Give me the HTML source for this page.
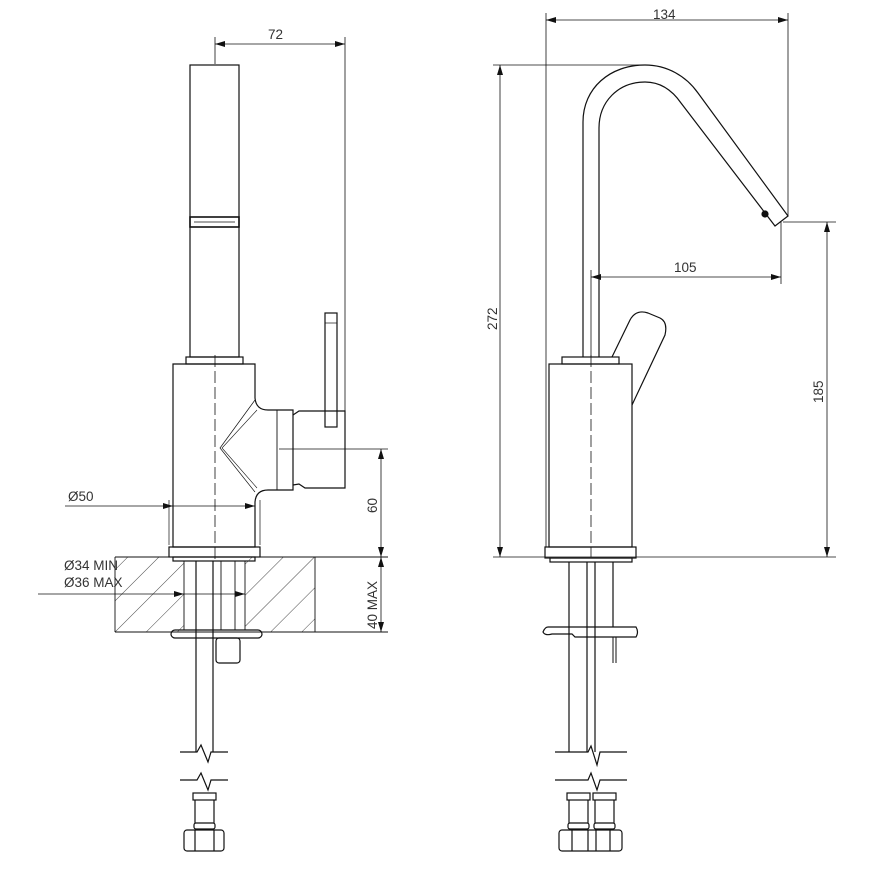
<!DOCTYPE html>
<html><head><meta charset="utf-8"><style>body{margin:0;background:#fff}svg{display:block}text{font-family:"Liberation Sans",sans-serif;font-size:13.5px;fill:#333}</style></head>
<body>
<svg width="872" height="872" viewBox="0 0 872 872" xmlns="http://www.w3.org/2000/svg">
<defs>
<pattern id="h" width="22" height="22" patternUnits="userSpaceOnUse" patternTransform="rotate(45)"><line x1="0" y1="0" x2="0" y2="22" stroke="#333" stroke-width="0.9"/></pattern>
<marker id="a" viewBox="0 0 10 6" refX="10" refY="3" markerWidth="10" markerHeight="6" orient="auto-start-reverse" markerUnits="userSpaceOnUse"><path d="M0 0L10 3L0 6z" fill="#111"/></marker>
</defs>
<g fill="none" stroke="#111" stroke-width="1.2">
<line x1="215" y1="37" x2="215" y2="64" stroke-width="0.8"/>
<line x1="345" y1="37" x2="345" y2="412" stroke-width="0.8"/>
<line x1="215" y1="44" x2="345" y2="44" stroke-width="0.8" marker-start="url(#a)" marker-end="url(#a)"/>
<rect x="190" y="65" width="49" height="292"/>
<rect x="190" y="217" width="49" height="10" stroke-width="1.6"/>
<line x1="194" y1="222" x2="235" y2="222" stroke-width="0.8"/>
<rect x="186" y="357" width="57" height="7"/>
<path d="M173 364 H255 V398 Q256 410 268 410 H293 V490 H268 Q256 490 255 502 V547 H173 Z"/>
<line x1="277" y1="410" x2="277" y2="490" stroke-width="0.9"/>
<path d="M293 415 L299 411 H345 V488 H305 L299 484 L293 485"/>
<path d="M255 400 L220 448 L255 492" stroke-width="0.7"/>
<path d="M257 410 L222 448 L257 488" stroke-width="0.6"/>
<rect x="325" y="313" width="12" height="114"/>
<line x1="325" y1="323" x2="337" y2="323" stroke-width="0.7"/>
<rect x="169" y="547" width="91" height="10"/>
<rect x="173" y="557" width="82" height="4"/>
<line x1="215" y1="355" x2="215" y2="562" stroke-width="0.8" stroke-dasharray="12,4"/>
<line x1="279" y1="449" x2="388" y2="449" stroke-width="0.8"/>
<line x1="169" y1="500" x2="169" y2="545" stroke-width="0.7"/>
<line x1="260" y1="500" x2="260" y2="545" stroke-width="0.7"/>
<line x1="65" y1="506" x2="173" y2="506" stroke-width="0.8" marker-end="url(#a)"/>
<line x1="173" y1="506" x2="255" y2="506" stroke-width="0.8" marker-end="url(#a)"/>
<line x1="381" y1="449" x2="381" y2="557" stroke-width="0.8" marker-start="url(#a)" marker-end="url(#a)"/>
<line x1="381" y1="557" x2="381" y2="632" stroke-width="0.8" marker-start="url(#a)" marker-end="url(#a)"/>
<rect x="115" y="557" width="69" height="75" fill="url(#h)" stroke="none"/>
<rect x="245" y="557" width="70" height="75" fill="url(#h)" stroke="none"/>
<line x1="115" y1="557" x2="388" y2="557" stroke-width="0.9"/>
<line x1="115" y1="632" x2="388" y2="632" stroke-width="0.9"/>
<line x1="115" y1="557" x2="115" y2="632" stroke-width="0.9"/>
<line x1="315" y1="557" x2="315" y2="632" stroke-width="0.9"/>
<line x1="184" y1="561" x2="184" y2="630" stroke-width="0.9"/>
<line x1="245" y1="561" x2="245" y2="630" stroke-width="0.9"/>
<line x1="196" y1="561" x2="196" y2="752"/>
<line x1="213" y1="561" x2="213" y2="752"/>
<line x1="221" y1="561" x2="221" y2="630" stroke-width="0.9"/>
<line x1="235" y1="561" x2="235" y2="630" stroke-width="0.9"/>
<line x1="38" y1="594" x2="184" y2="594" stroke-width="0.8" marker-end="url(#a)"/>
<line x1="184" y1="594" x2="245" y2="594" stroke-width="0.8" marker-end="url(#a)"/>
<rect x="171" y="630" width="91" height="8" rx="4"/>
<rect x="216" y="638" width="24" height="25" rx="3"/>
<path d="M180 752 H197 L201 745 L208 762 L211 752 H228"/>
<path d="M180 780 H197 L201 773 L208 790 L211 780 H228"/>
<rect x="193" y="793" width="23" height="7"/>
<path d="M195 800 V823 M214 800 V823"/>
<rect x="194" y="823" width="21" height="6" rx="2"/>
<rect x="184" y="830" width="40" height="21" rx="3"/>
<path d="M195 830 V851 M214 830 V851"/>

<line x1="546" y1="13" x2="546" y2="547" stroke-width="0.8"/>
<line x1="788" y1="13" x2="788" y2="216" stroke-width="0.8"/>
<line x1="546" y1="20" x2="788" y2="20" stroke-width="0.8" marker-start="url(#a)" marker-end="url(#a)"/>
<line x1="493" y1="65" x2="645" y2="65" stroke-width="0.8"/>
<line x1="500" y1="65" x2="500" y2="557" stroke-width="0.8" marker-start="url(#a)" marker-end="url(#a)"/>
<line x1="493" y1="557" x2="836" y2="557" stroke-width="0.8"/>
<line x1="783" y1="222" x2="836" y2="222" stroke-width="0.8"/>
<line x1="827" y1="222" x2="827" y2="557" stroke-width="0.8" marker-start="url(#a)" marker-end="url(#a)"/>
<line x1="781" y1="222" x2="781" y2="284" stroke-width="0.8"/>
<line x1="591" y1="270" x2="591" y2="357" stroke-width="0.8"/>
<line x1="591" y1="277" x2="781" y2="277" stroke-width="0.8" marker-start="url(#a)" marker-end="url(#a)"/>
<path d="M583 357 V122 C583 88 610 65 645 65 C667 65 686 76 698 93 L788 216 L775 226 L681 103 C672 90 660 82 645 82 C618 82 599 102 599 128 V357"/>
<circle cx="765" cy="214" r="3" fill="#111"/>
<path d="M612 357 L630 320 Q636 309 648 313 L660 318 Q668 322 665 335 L632 405"/>
<rect x="562" y="357" width="57" height="7"/>
<rect x="549" y="364" width="83" height="183"/>
<rect x="545" y="547" width="91" height="11"/>
<rect x="550" y="558" width="82" height="4"/>
<line x1="591" y1="355" x2="591" y2="557" stroke-width="0.8" stroke-dasharray="12,4"/>
<path d="M569 562 V752 M587 562 V752 M595 562 V752 M613 562 V627"/>
<path d="M548 627 H636 Q639 632 636 637 H575 L572 634 H552 Q545 636 543 632 Q545 627 548 627"/>
<path d="M613 637 V663 M616 637 V663" stroke-width="1"/>
<path d="M555 752 H588 L591 746 L597 765 L600 752 H627"/>
<path d="M555 780 H588 L591 773 L597 790 L600 780 H627"/>
<rect x="567" y="793" width="23" height="7"/><rect x="593" y="793" width="23" height="7"/>
<path d="M569 800 V823 M588 800 V823 M595 800 V823 M614 800 V823"/>
<rect x="568" y="823" width="21" height="6" rx="2"/><rect x="594" y="823" width="21" height="6" rx="2"/>
<rect x="559" y="830" width="63" height="21" rx="3"/>
<path d="M572 830 V851 M588 830 V851 M596 830 V851 M610 830 V851"/>
</g>
<text x="268" y="39">72</text>
<text x="68" y="501">Ø50</text>
<text x="64" y="570">Ø34 MIN</text>
<text x="64" y="587">Ø36 MAX</text>
<text transform="translate(377,513) rotate(-90)">60</text>
<text transform="translate(377,629) rotate(-90)">40 MAX</text>
<text x="653" y="19">134</text>
<text x="674" y="272">105</text>
<text transform="translate(497,330) rotate(-90)">272</text>
<text transform="translate(823,403) rotate(-90)">185</text>
</svg>
</body></html>
